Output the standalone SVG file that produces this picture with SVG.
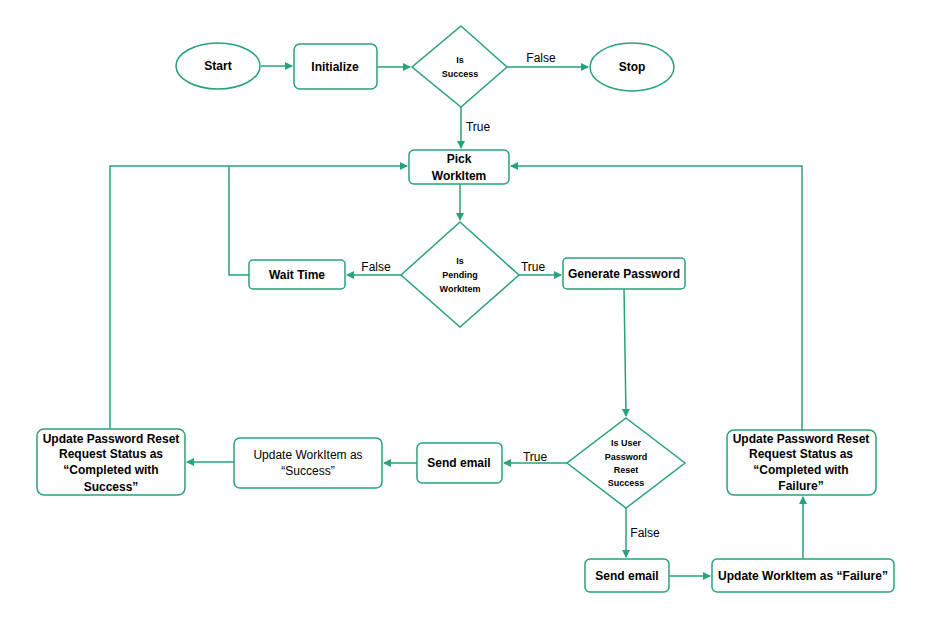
<svg xmlns="http://www.w3.org/2000/svg" width="934" height="626" viewBox="0 0 934 626">
<style>
.n{fill:#fff;stroke:#27a27a;stroke-width:1.5}
.c{fill:none;stroke:#27a27a;stroke-width:1.5}
text{font-family:"Liberation Sans",Arial,sans-serif;font-size:12px;fill:#000;text-anchor:middle}
.b{font-weight:bold}
.s{font-size:9px;font-weight:bold}
.l{font-size:12px}
</style>
<defs><marker id="a" markerWidth="8" markerHeight="8" refX="7" refY="4" orient="auto" markerUnits="userSpaceOnUse"><path d="M0,0L8,4L0,8z" fill="#27a27a"/></marker></defs>
<rect width="934" height="626" fill="#fff"/>
<g id="connectors">
<path class="c" d="M261,66H292" marker-end="url(#a)"/>
<path class="c" d="M377,67H410" marker-end="url(#a)"/>
<path class="c" d="M507,67H588" marker-end="url(#a)"/>
<path class="c" d="M461,107V148" marker-end="url(#a)"/>
<path class="c" d="M460,184V220" marker-end="url(#a)"/>
<path class="c" d="M401,275H347" marker-end="url(#a)"/>
<path class="c" d="M519,275H561" marker-end="url(#a)"/>
<path class="c" d="M624,289L626,416" marker-end="url(#a)"/>
<path class="c" d="M567,463H504" marker-end="url(#a)"/>
<path class="c" d="M417,463H384" marker-end="url(#a)"/>
<path class="c" d="M234,462H187" marker-end="url(#a)"/>
<path class="c" d="M626,508V557" marker-end="url(#a)"/>
<path class="c" d="M669,576H710" marker-end="url(#a)"/>
<path class="c" d="M803,559V497" marker-end="url(#a)"/>
<path class="c" d="M110,429V166H407" marker-end="url(#a)"/>
<path class="c" d="M249,275H229V166"/>
<path class="c" d="M802,430V166H511" marker-end="url(#a)"/>
<text class="l" x="478" y="131">True</text>
<text class="l" x="541" y="62">False</text>
<text class="l" x="376" y="271">False</text>
<text class="l" x="533" y="271">True</text>
<text class="l" x="535" y="461">True</text>
<text class="l" x="645" y="537">False</text>
</g>
<g id="start"><ellipse class="n" cx="218" cy="66" rx="42" ry="23"/><text class="b" x="218" y="70">Start</text></g>
<g id="init"><rect class="n" x="294" y="44" width="83" height="45" rx="6"/><text class="b" x="335" y="71">Initialize</text></g>
<g id="isSuccess"><path class="n" d="M461,26L507,67L461,107L412,67z"/><text class="s" x="460" y="63">Is</text><text class="s" x="460" y="77">Success</text></g>
<g id="stop"><ellipse class="n" cx="632" cy="67" rx="42" ry="24"/><text class="b" x="632" y="71">Stop</text></g>
<g id="pick"><rect class="n" x="409" y="150" width="100" height="34" rx="5"/><text class="b" x="459" y="163">Pick</text><text class="b" x="459" y="180">WorkItem</text></g>
<g id="pending"><path class="n" d="M460,222L519,275L460,327L401,275z"/><text class="s" x="460" y="264">Is</text><text class="s" x="460" y="278">Pending</text><text class="s" x="460" y="292">WorkItem</text></g>
<g id="wait"><rect class="n" x="249" y="260" width="96" height="29" rx="4"/><text class="b" x="297" y="279">Wait Time</text></g>
<g id="gen"><rect class="n" x="563" y="258" width="122" height="31" rx="4"/><text class="b" x="624" y="278">Generate Password</text></g>
<g id="isUser"><path class="n" d="M626,418L685,463L626,508L567,463z"/><text class="s" x="626" y="446">Is User</text><text class="s" x="626" y="460">Password</text><text class="s" x="626" y="473">Reset</text><text class="s" x="626" y="486">Success</text></g>
<g id="send1"><rect class="n" x="417" y="443" width="85" height="40" rx="5"/><text class="b" x="459" y="467">Send email</text></g>
<g id="updWS"><rect class="n" x="234" y="438" width="148" height="50" rx="6"/><text x="308" y="459">Update WorkItem as</text><text x="308" y="475">“Success”</text></g>
<g id="updPS"><rect class="n" x="37" y="429" width="148" height="66" rx="7"/><text class="b" x="111" y="443">Update Password Reset</text><text class="b" x="111" y="458">Request Status as</text><text class="b" x="111" y="474">“Completed with</text><text class="b" x="111" y="491">Success”</text></g>
<g id="send2"><rect class="n" x="585" y="559" width="84" height="33" rx="5"/><text class="b" x="627" y="580">Send email</text></g>
<g id="updWF"><rect class="n" x="712" y="559" width="182" height="33" rx="5"/><text class="b" x="803" y="580">Update WorkItem as “Failure”</text></g>
<g id="updPF"><rect class="n" x="727" y="430" width="149" height="65" rx="7"/><text class="b" x="801" y="443">Update Password Reset</text><text class="b" x="801" y="458">Request Status as</text><text class="b" x="801" y="474">“Completed with</text><text class="b" x="801" y="490">Failure”</text></g>
</svg>
